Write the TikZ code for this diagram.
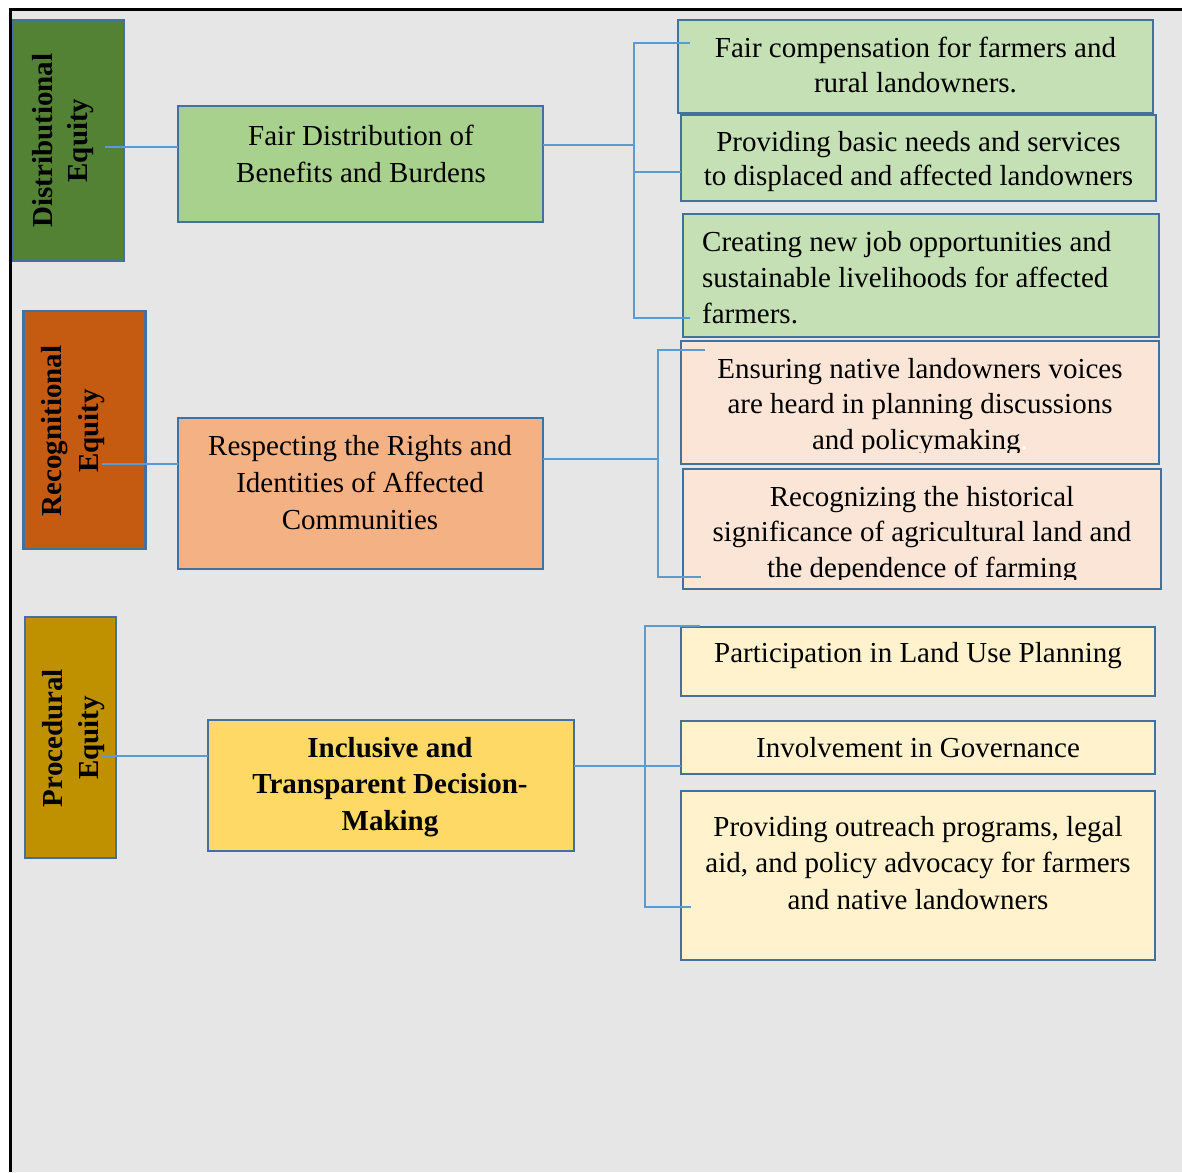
\documentclass[tikz,border=0pt]{standalone}
\usepackage{fontspec}
\setmainfont{Liberation Serif}
\usetikzlibrary{calc}

\definecolor{pagegray}{HTML}{E7E6E6}
\definecolor{edgeblue}{HTML}{41719C}
\definecolor{linkblue}{HTML}{5B9BD5}
\definecolor{distdark}{HTML}{548235}
\definecolor{distmid}{HTML}{A9D18E}
\definecolor{distlight}{HTML}{C5E0B4}
\definecolor{recdark}{HTML}{C55A11}
\definecolor{recmid}{HTML}{F4B183}
\definecolor{reclight}{HTML}{FBE5D6}
\definecolor{procdark}{HTML}{BF9000}
\definecolor{procmid}{HTML}{FFD966}
\definecolor{proclight}{HTML}{FFF2CC}

% multi-line text whose reference point is the baseline of its first line
\newcommand\txtlines[2]{\begin{tabular}[t]{@{}#1@{}}#2\end{tabular}}

\begin{document}
\begin{tikzpicture}[x=1pt,y=-1pt,
  box/.style={draw=edgeblue, line width=2.7pt, inner sep=0pt, outer sep=0pt},
  conn/.style={draw=linkblue, line width=1.3pt},
  txt/.style={anchor=base, inner sep=0pt, font=\fontsize{29}{#1}\selectfont},
  txt/.default=36.5,
  vlabel/.style={anchor=base, rotate=90, inner sep=0pt, font=\fontsize{29}{#1}\selectfont\bfseries},
  vlabel/.default=36]
\useasboundingbox (0,0) rectangle (1182,1172);

% page and frame
\fill[white] (0,0) rectangle (1182,1172);
\fill[pagegray] (12,11) rectangle (1182,1172);
\fill[black] (9,8) rectangle (1182,11);
\fill[black] (9,8) rectangle (12,1172);

% ---------- distributional equity ----------
\node[box, fill=distdark, minimum width=111, minimum height=241] (de) at (68.5,140.5) {};
\node[box, fill=distmid, minimum width=365, minimum height=116] (fd) at (360.5,164) {};
\node[box, fill=distlight, minimum width=475, minimum height=93] (g1) at (915.5,66.5) {};
\node[box, fill=distlight, minimum width=475, minimum height=86] (g2) at (918.5,158) {};
\node[box, fill=distlight, minimum width=476, minimum height=123] (g3) at (921,275.5) {};

\node[vlabel=35] (det) at (52,140.5) {\txtlines{c}{Distributional\\Equity}};
\node[txt=37] (fdt) at (361,145) {\txtlines{c}{Fair Distribution of\\Benefits and Burdens}};
\node[txt=35] (g1t) at (915.5,57) {\txtlines{c}{Fair compensation for farmers and\\rural landowners.}};
\node[txt=34.5] (g2t) at (918.5,151) {\txtlines{c}{Providing basic needs and services\\to displaced and affected landowners}};
\node[txt=36, anchor=base west] (g3t) at (702,251) {\txtlines{l}{Creating new job opportunities and\\sustainable livelihoods for affected\\farmers.}};

\coordinate (dj) at (634,145);
\draw[conn] ([xshift=-19pt]de.east |- 0,147) -- (fd.west |- 0,147);
\draw[conn] (fd.east |- dj) -- (dj);
\draw[conn] ([xshift=12pt]g1.west |- 0,43) -- (dj |- 0,43) -- (dj |- 0,318) -- ([xshift=7pt]g3.west |- 0,318);
\draw[conn] (dj |- 0,172) -- (g2.west |- 0,172);

% ---------- recognitional equity ----------
\node[box, fill=recdark, minimum width=122, minimum height=238] (re) at (84.3,430) {};
\node[box, fill=recmid, minimum width=365, minimum height=151] (rr) at (360.5,493.5) {};
\node[box, fill=reclight, minimum width=478, minimum height=123] (p1) at (920,402.5) {};
\node[box, fill=reclight, minimum width=478, minimum height=120] (p2) at (922,529) {};

\node[vlabel=37] (ret) at (61,431) {\txtlines{c}{Recognitional\\Equity}};
\node[txt=37] (rrt) at (360,455) {\txtlines{c}{Respecting the Rights and\\Identities of Affected\\Communities}};
\begin{scope}
  \clip (p1.north west) rectangle (p1.east |- 0,452);
  \node[txt=35.5] (p1t) at (920,378) {\txtlines{c}{Ensuring native landowners voices\\are heard in planning discussions\\and policymaking{\color{white}.}}};
\end{scope}
\begin{scope}
  \clip (p2.north west) rectangle (p2.east |- 0,579);
  \node[txt=35.5] (p2t) at (922,506) {\txtlines{c}{Recognizing the historical\\significance of agricultural land and\\the dependence of farming}};
\end{scope}

\coordinate (rj) at (658,459);
\draw[conn] ([xshift=-43pt]re.east |- 0,464) -- (rr.west |- 0,464);
\draw[conn] (rr.east |- rj) -- (rj);
\draw[conn] ([xshift=24pt]p1.west |- 0,350) -- (rj |- 0,350) -- (rj |- 0,577) -- ([xshift=18pt]p2.west |- 0,577);

% ---------- procedural equity ----------
\node[box, fill=procdark, minimum width=91, minimum height=241] (pe) at (70.5,737.5) {};
\node[box, fill=procmid, minimum width=366, minimum height=131] (it) at (391,785.5) {};
\node[box, fill=proclight, minimum width=474, minimum height=69] (y1) at (918,661.5) {};
\node[box, fill=proclight, minimum width=474, minimum height=53] (y2) at (918,747.5) {};
\node[box, fill=proclight, minimum width=474, minimum height=169] (y3) at (918,875.5) {};

\node[vlabel=36] (pet) at (62,738) {\txtlines{c}{Procedural\\Equity}};
\node[txt=36.5, font=\fontsize{29}{36.5}\selectfont\bfseries] (itt) at (390,757) {\txtlines{c}{Inclusive and\\Transparent Decision-\\Making}};
\node[txt] (y1t) at (918,662) {Participation in Land Use Planning};
\node[txt] (y2t) at (918,757) {Involvement in Governance};
\node[txt=36.5] (y3t) at (918,836) {\txtlines{c}{Providing outreach programs, legal\\aid, and policy advocacy for farmers\\and native landowners}};

\coordinate (pj) at (645,766);
\draw[conn] ([xshift=-14pt]pe.east |- 0,756) -- (it.west |- 0,756);
\draw[conn] (it.east |- pj) -- (y2.west |- pj);
\draw[conn] ([xshift=19pt]y1.west |- 0,626) -- (pj |- 0,626) -- (pj |- 0,907) -- ([xshift=10pt]y3.west |- 0,907);

\end{tikzpicture}
\end{document}
